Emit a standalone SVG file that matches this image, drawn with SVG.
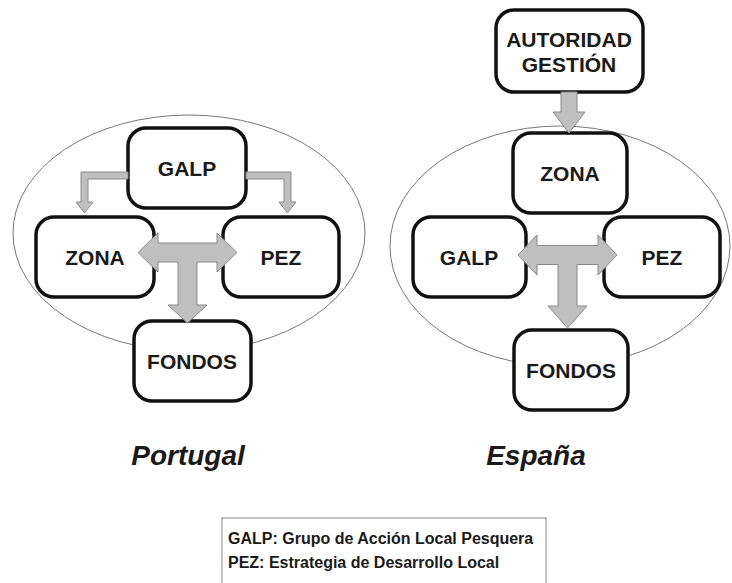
<svg xmlns="http://www.w3.org/2000/svg" width="732" height="583" viewBox="0 0 732 583">
<style>
.zone{fill:none;stroke:#777;stroke-width:1}
.box{fill:#fff;stroke:#111;stroke-width:3.5}
.arr{fill:#bfbfbf;stroke:#8a8a8a;stroke-width:1;stroke-linejoin:miter}
.t{font-family:"Liberation Sans",Arial,sans-serif;font-weight:bold;font-size:21px;fill:#1a1a1a;text-anchor:middle}
.title{font-family:"Liberation Sans",Arial,sans-serif;font-weight:bold;font-style:italic;font-size:28px;fill:#1a1a1a;text-anchor:middle}
.leg{font-family:"Liberation Sans",Arial,sans-serif;font-weight:bold;font-size:16px;fill:#1a1a1a}
</style>
<rect width="732" height="583" fill="#fff"/>
<ellipse class="zone" cx="189" cy="233" rx="176" ry="118"/>
<ellipse class="zone" cx="560" cy="246" rx="170" ry="120"/>
<g id="pt-galp"><rect class="box" x="128" y="128" width="118" height="80" rx="18"/><text class="t" x="187" y="175.5">GALP</text></g>
<g id="pt-zona"><rect class="box" x="36" y="217" width="118" height="80" rx="18"/><text class="t" x="95" y="264.5">ZONA</text></g>
<g id="pt-pez"><rect class="box" x="223" y="217" width="116" height="80" rx="18"/><text class="t" x="281" y="264.5">PEZ</text></g>
<g id="pt-fondos"><rect class="box" x="134" y="321" width="117" height="80" rx="18"/><text class="t" x="192" y="368.5">FONDOS</text></g>
<g id="es-autoridad"><rect class="box" x="496" y="10" width="147" height="82" rx="18"/><text class="t" x="569" y="47">AUTORIDAD</text><text class="t" x="569" y="72">GESTIÓN</text></g>
<g id="es-zona"><rect class="box" x="513" y="133" width="114" height="80" rx="18"/><text class="t" x="570" y="180.5">ZONA</text></g>
<g id="es-galp"><rect class="box" x="413" y="217" width="113" height="80" rx="18"/><text class="t" x="469" y="264.5">GALP</text></g>
<g id="es-pez"><rect class="box" x="604" y="217" width="116" height="80" rx="18"/><text class="t" x="662" y="264.5">PEZ</text></g>
<g id="es-fondos"><rect class="box" x="514" y="330" width="114" height="80" rx="18"/><text class="t" x="571" y="377.5">FONDOS</text></g>
<g id="connectors">
<path class="arr" d="M128,172 L81,172 L81,202 L76,202 L84.5,213 L93,202 L88,202 L88,179 L128,179 Z"/>
<path class="arr" d="M246,172 L291,172 L291,202 L296,202 L287.5,213 L279,202 L284,202 L284,179 L246,179 Z"/>
<path class="arr" d="M138,252.5 L158,233 L158,243 L217,243 L217,233 L237,252.5 L217,272 L217,262 L197,262 L197,305 L207,305 L187.5,323 L168,305 L178,305 L178,262 L158,262 L158,272 Z"/>
<path class="arr" d="M518,255 L537,235 L537,245.5 L598,245.5 L598,235 L617,255 L598,275 L598,264.5 L577,264.5 L577,306 L587,306 L567.5,328 L548,306 L558,306 L558,264.5 L537,264.5 L537,275 Z"/>
<path class="arr" d="M561,92 L577,92 L577,112 L585,112 L569,133 L553,112 L561,112 Z"/>
</g>
<text class="title" x="188" y="465">Portugal</text>
<text class="title" x="536" y="465">España</text>
<g id="legend">
<rect x="222" y="518" width="324" height="72" fill="none" stroke="#999" stroke-width="1.2"/>
<text class="leg" x="228" y="544">GALP: Grupo de Acción Local Pesquera</text>
<text class="leg" x="228" y="568">PEZ: Estrategia de Desarrollo Local</text>
</g>
</svg>
